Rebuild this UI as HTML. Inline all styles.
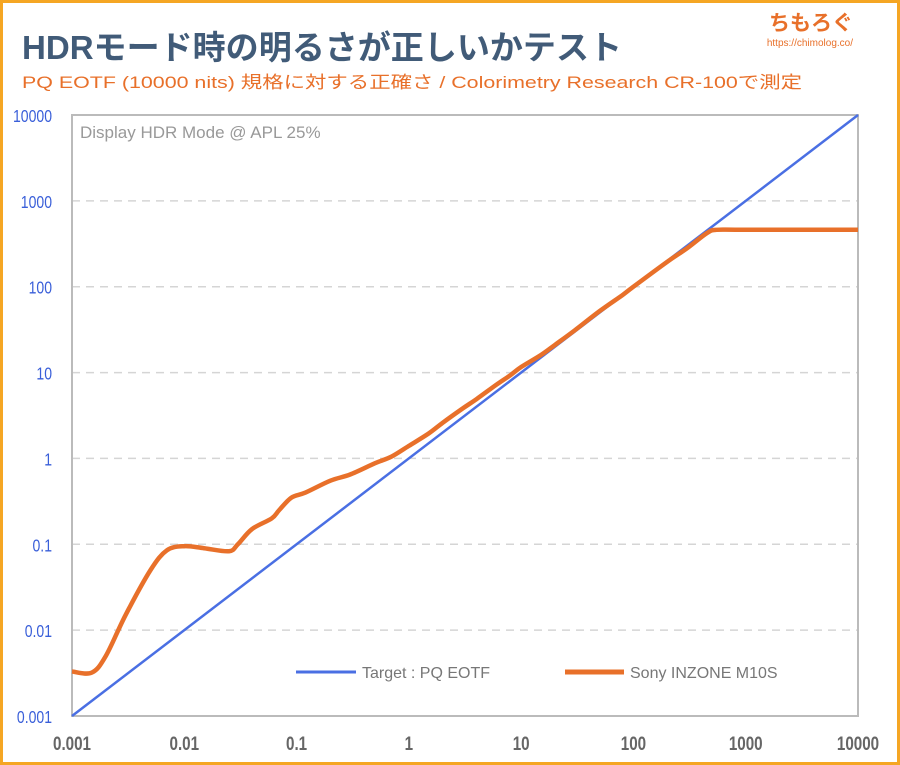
<!DOCTYPE html>
<html><head><meta charset="utf-8"><style>
html,body{margin:0;padding:0;background:#fff}
#wrap{position:relative;width:900px;height:765px;box-sizing:border-box;border:3px solid #f5a623;background:#fff;overflow:hidden}
text{font-family:"Liberation Sans","Noto Sans CJK JP",sans-serif}
</style></head><body>
<div id="wrap">
<svg id="svg" width="894" height="759" viewBox="3 3 894 759" xmlns="http://www.w3.org/2000/svg">
<text x="22" y="59" font-size="33" font-weight="bold" fill="#415b78" textLength="600" lengthAdjust="spacingAndGlyphs">HDRモード時の明るさが正しいかテスト</text>
<text x="22" y="88" font-size="17" fill="#e8702a" textLength="780" lengthAdjust="spacingAndGlyphs">PQ EOTF (10000 nits) 規格に対する正確さ / Colorimetry Research CR-100で測定</text>
<text x="853" y="30" font-size="21" font-weight="bold" fill="#e8702a" text-anchor="end">ちもろぐ</text>
<text x="853" y="46" font-size="10" fill="#e8702a" text-anchor="end">https://chimolog.co/</text>
<g id="grid"></g>
<rect x="72" y="115" width="786" height="601" fill="none" stroke="#bbb" stroke-width="2"/>
<text x="80" y="138" font-size="17" fill="#999">Display HDR Mode @ APL 25%</text>
<g id="marks"></g>
<line x1="296" y1="672" x2="356" y2="672" stroke="#4a6fe3" stroke-width="3"/>
<text x="362" y="678" font-size="16" fill="#777">Target : PQ EOTF</text>
<line x1="565" y1="672" x2="624" y2="672" stroke="#e8702a" stroke-width="5"/>
<text x="630" y="678" font-size="16" fill="#777">Sony INZONE M10S</text>
</svg>
</div>
<script>
const tickValues=[0.001,0.01,0.1,1,10,100,1000,10000];
const tickLabels=["0.001","0.01","0.1","1","10","100","1000","10000"];
const targetX=[0.001,10000];
const targetY=[0.001,10000];
const sonyX=[0.001,0.0015,0.002,0.003,0.005,0.007,0.01,0.015,0.025,0.03,0.04,0.06,0.07,0.09,0.12,0.2,0.3,0.5,0.7,1,1.5,2,3,4,6,8,10,15,20,30,50,80,100,200,300,450,550,1000,10000];
const sonyY=[0.0033,0.0032,0.005,0.015,0.05,0.085,0.095,0.09,0.083,0.1,0.15,0.2,0.25,0.35,0.4,0.55,0.65,0.88,1.05,1.4,1.95,2.6,3.8,4.9,7.2,9.3,11.6,16,21,31,52,80,100,195,280,420,460,460,460];
const X0=72,X1=858,Y0=716,Y1=115;
const sx=v=>X0+(Math.log10(v)+3)/7*(X1-X0);
const sy=v=>Y0-(Math.log10(v)+3)/7*(Y0-Y1);
const NS="http://www.w3.org/2000/svg";
const grid=document.getElementById('grid'),marks=document.getElementById('marks');
function mk(t,a,p){const e=document.createElementNS(NS,t);for(const k in a)e.setAttribute(k,a[k]);p.appendChild(e);return e;}
tickValues.forEach((v,i)=>{
  if(i>0&&i<7){const l=mk('line',{x1:X0,x2:X1,y1:sy(v),y2:sy(v),stroke:'#d5d5d5','stroke-width':1.5,'stroke-dasharray':'8,6'},grid);
  
  }
  const ty=mk('text',{x:0,y:0,'font-size':18,fill:'#3a5fd9','text-anchor':'end',transform:'translate(52,'+(sy(v)+7)+') scale(0.78,1)'},grid);
  
  
  ty.textContent=tickLabels[i];
  const tx=mk('text',{x:0,y:0,'font-size':19,'font-weight':'bold',fill:'#666','text-anchor':'middle',transform:'translate('+sx(v)+',750) scale(0.8,1)'},grid);
  
  
  tx.textContent=tickLabels[i];
});
const t=mk('line',{x1:sx(targetX[0]),y1:sy(targetY[0]),x2:sx(targetX[1]),y2:sy(targetY[1]),stroke:'#4a6fe3','stroke-width':2.5},marks);


const P=sonyX.map((x,i)=>[sx(x),sy(sonyY[i])]);
let d='M'+P[0][0]+','+P[0][1];
for(let i=0;i<P.length-1;i++){const p0=P[i-1]||P[i],p1=P[i],p2=P[i+1],p3=P[i+2]||P[i+1];
 d+=' C'+(p1[0]+(p2[0]-p0[0])/6)+','+(p1[1]+(p2[1]-p0[1])/6)+' '+(p2[0]-(p3[0]-p1[0])/6)+','+(p2[1]-(p3[1]-p1[1])/6)+' '+p2[0]+','+p2[1];}
const s=mk('path',{d:d,fill:'none',stroke:'#e8702a','stroke-width':4.5,'stroke-linejoin':'round'},marks);


</script>
</body></html>
